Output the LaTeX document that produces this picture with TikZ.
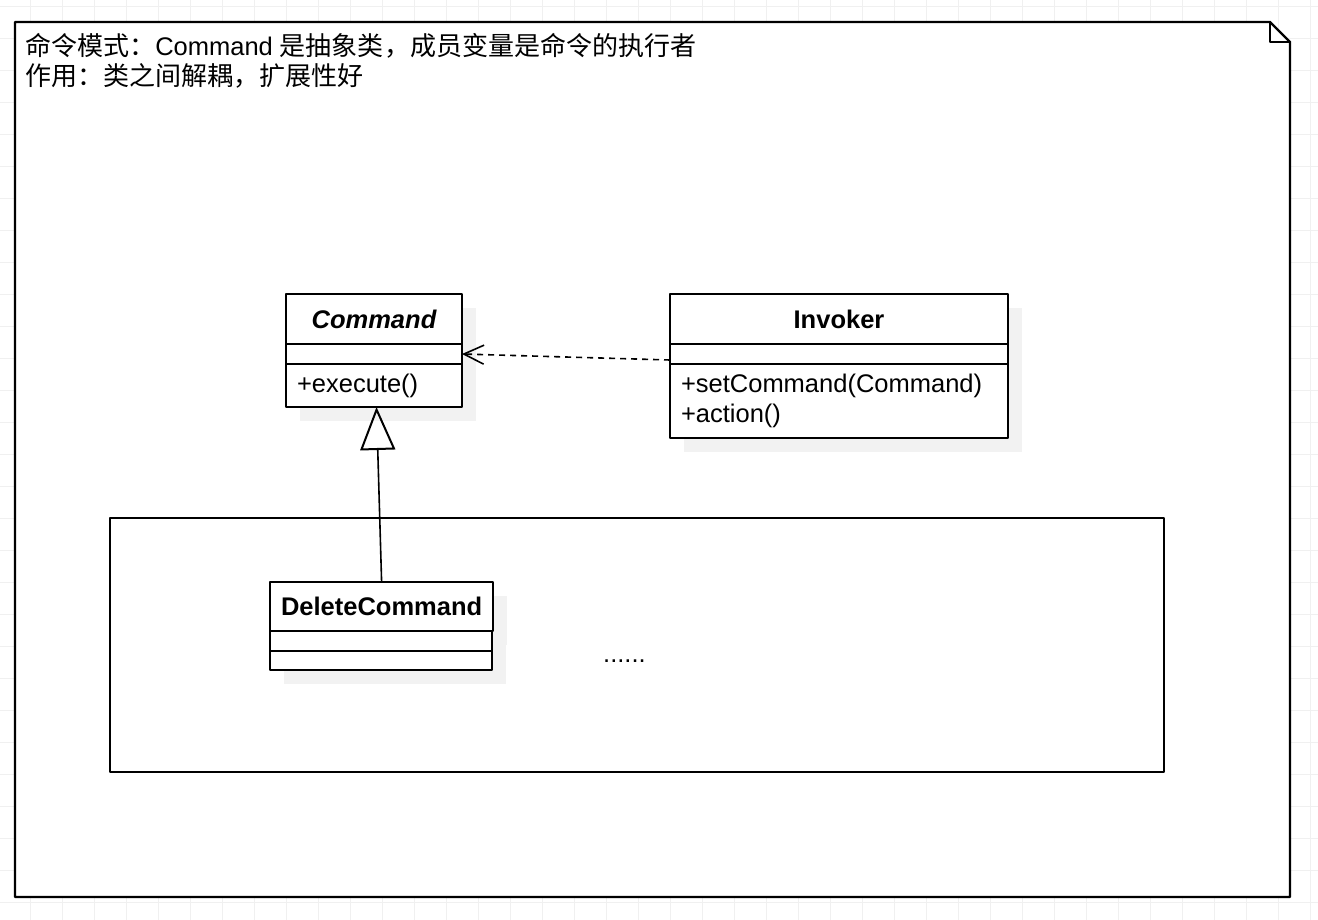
\documentclass[tikz,border=0pt]{standalone}
\usepackage{fontspec}
\setmainfont{Liberation Sans}
\newfontfamily\cjk[Scale=1.02]{Noto Sans CJK SC}
\usetikzlibrary{arrows.meta,shadows}
\definecolor{gridgray}{RGB}{240,240,240}
\definecolor{shadowgray}{RGB}{242,242,242}
\newcommand\umlfont{\fontsize{25.5}{30}\selectfont}
\tikzset{
	gridline/.style={gridgray, line width=1pt},
	umlpart/.style={draw, fill=white, line width=2pt, outer sep=0pt, inner xsep=11pt, inner ysep=0pt,
		anchor=north west, font=\umlfont,
		drop shadow={shadow xshift=14pt, shadow yshift=-14pt, opacity=1, fill=shadowgray}},
	umlhead/.style={umlpart, font=\umlfont\bfseries},
	depends/.style={line width=1.6pt, dash pattern=on 6pt off 5pt,
		-{Straight Barb[length=20pt, width=19pt, line width=1.6pt]}},
	inherits/.style={line width=1.6pt, -{Triangle[open, length=43pt, width=35pt, line width=2pt]}},
}
\begin{document}
\begin{tikzpicture}[x=1pt, y=-1pt, line join=round, font=\umlfont]
		\def\W{1318} \def\H{920}
		\useasboundingbox (0,0) rectangle (\W,\H);
		% grid
		\foreach \k in {1,...,41} \draw[gridline] (32*\k-1.3,0) -- (32*\k-1.3,\H);
		\foreach \k in {0,...,28} \draw[gridline] (0,32*\k+6.5) -- (\W,32*\k+6.5);
		% note
		\draw[line width=2.4pt, fill=white] (15,22) -- (1270,22) -- (1290,42) -- (1290,897) -- (15,897) -- cycle;
		\draw[line width=2.4pt] (1270,22) -- (1270,42) -- (1290,42);
		\node[anchor=base west, inner sep=0pt] (intro) at (25,56) {{\cjk 命令模式：}Command {\cjk 是抽象类，成员变量是命令的执行者}};
		\node[anchor=base west, inner sep=0pt] (use) at (25,86) {\cjk 作用：类之间解耦，扩展性好};
		% container
		\draw[line width=2pt] (110,518) rectangle (1164,772);
		% Command
		\node[umlhead, font=\umlfont\bfseries\itshape, minimum width=176pt, minimum height=50pt] (cmd) at (286,294) {Command};
		\node[umlpart, minimum width=176pt, minimum height=20pt] (cmdAttr) at (cmd.south west) {};
		\node[umlpart, text width=154pt, minimum height=43pt, align=left] (cmdOps) at (cmdAttr.south west) {+execute()};
		% Invoker
		\node[umlhead, minimum width=338pt, minimum height=50pt] (inv) at (670,294) {Invoker};
		\node[umlpart, minimum width=338pt, minimum height=20pt] (invAttr) at (inv.south west) {};
		\node[umlpart, text width=316pt, minimum height=74pt, align=left] (invOps) at (invAttr.south west) {+setCommand(Command)\\+action()};
		% DeleteCommand
		\node[umlhead, minimum width=222pt, minimum height=49pt] (del) at (270,582) {DeleteCommand};
		\node[umlpart, minimum width=222pt, minimum height=20pt] (delAttr) at (del.south west) {};
		\node[umlpart, minimum width=222pt, minimum height=19pt] (delOps) at (delAttr.south west) {};
		\node[anchor=base west, inner sep=0pt] (more) at (603,662) {......};
		% relations
		\draw[depends] ([yshift=-6pt]invAttr.west) -- (cmdAttr.east);
		\draw[inherits] (del.north) -- ([xshift=2.5pt]cmdOps.south);
	\end{tikzpicture}
\end{document}
